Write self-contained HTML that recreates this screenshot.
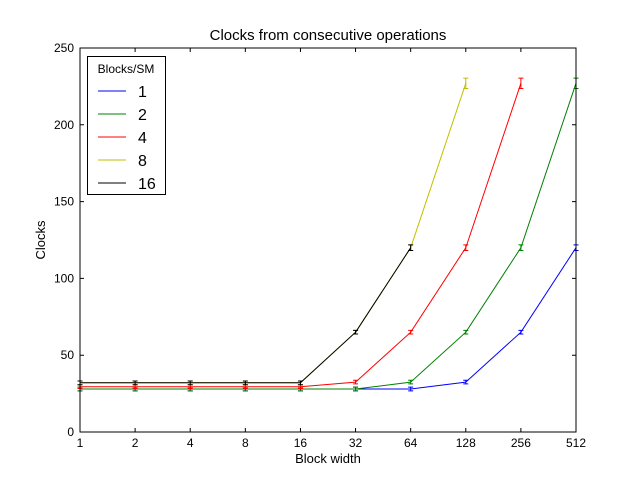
<!DOCTYPE html>
<html><head><meta charset="utf-8"><style>body{margin:0;background:#fff}svg{display:block;font-family:"Liberation Sans",sans-serif}</style></head>
<body>
<svg id="chart" width="640" height="480" viewBox="0 0 640 480" xmlns="http://www.w3.org/2000/svg">
<rect width="640" height="480" fill="#fff"/>
<text x="328" y="40" font-size="15" text-anchor="middle">Clocks from consecutive operations</text>
<g id="plot"></g>
<text x="328" y="463" font-size="13" text-anchor="middle">Block width</text>
<text x="45" y="240" font-size="13" text-anchor="middle" transform="rotate(-90 45 240)">Clocks</text>
</svg>
<script>
const categories = [1,2,4,8,16,32,64,128,256,512];
const seriesNames = ["1","2","4","8","16"];
const seriesColors = ["#0000ff","#008000","#ff0000","#bfbf00","#000000"];
const s1 = [28,28,28,28,28,28,28,32.5,65,120];
const s2 = [28,28,28,28,28,28,32.5,65,120,227];
const s4 = [29.5,29.5,29.5,29.5,29.5,32.5,65,120,227];
const s8 = [32,32,32,32,32,65,120,227];
const s16 = [32,32,32,32,32,65,120];
const yTicks = [0,50,100,150,200,250];
const series = [s1,s2,s4,s8,s16];
const L=80,R=576,T=48,B=432;
const xs = i => L + (R-L)*Math.log2(categories[i])/Math.log2(512);
const ys = v => B - (B-T)*v/250;
const NS="http://www.w3.org/2000/svg";
const g=document.getElementById('plot');
function mk(t,a,parent){const e=document.createElementNS(NS,t);for(const k in a)e.setAttribute(k,a[k]);(parent||g).appendChild(e);return e;}
series.forEach((s,si)=>{
  const grp=mk('g',{});
  
  
  const pts=s.map((v,i)=>xs(i).toFixed(1)+','+ys(v).toFixed(1)).join(' ');
  const pl=mk('polyline',{points:pts,fill:'none',stroke:seriesColors[si],'stroke-width':1},grp);
  
  
  s.forEach((v,i)=>{
    const x=xs(i),e=Math.max(1.2,v*0.015);
    const y1=ys(v+e),y2=ys(v-e);
    const eb=mk('path',{d:`M${x},${y1}V${y2}M${x-2.5},${y1}H${x+2.5}M${x-2.5},${y2}H${x+2.5}`,stroke:seriesColors[si],'stroke-width':1,fill:'none'},grp);
    
    
  });
});
const frame=mk('rect',{x:L,y:T,width:R-L,height:B-T,fill:'none',stroke:'#000','stroke-width':1});


categories.forEach((c,i)=>{
  const x=xs(i);
  mk('path',{d:`M${x},${B}v-4M${x},${T}v4`,stroke:'#000'});
  const t=mk('text',{x:x,y:B+15,'font-size':12,'text-anchor':'middle'});
  t.textContent=c;
  
  
});
yTicks.forEach(v=>{
  const y=ys(v);
  mk('path',{d:`M${L},${y}h4M${R},${y}h-4`,stroke:'#000'});
  const t=mk('text',{x:L-6,y:y+4,'font-size':12,'text-anchor':'end'});
  t.textContent=v;
  
  
});
const lg=mk('g',{});


mk('rect',{x:87.5,y:56.5,width:78,height:138,fill:'#fff',stroke:'#000'},lg);
const lt=mk('text',{x:126,y:73,'font-size':12,'text-anchor':'middle'},lg);
lt.textContent='Blocks/SM';
seriesNames.forEach((n,i)=>{
  const y=91+i*23;
  const en=mk('g',{},lg);
  
  
  mk('line',{x1:98,x2:126,y1:y,y2:y,stroke:seriesColors[i]},en);
  const t=mk('text',{x:138,y:y+6,'font-size':16},en);
  t.textContent=n;
});
</script>
</body></html>
